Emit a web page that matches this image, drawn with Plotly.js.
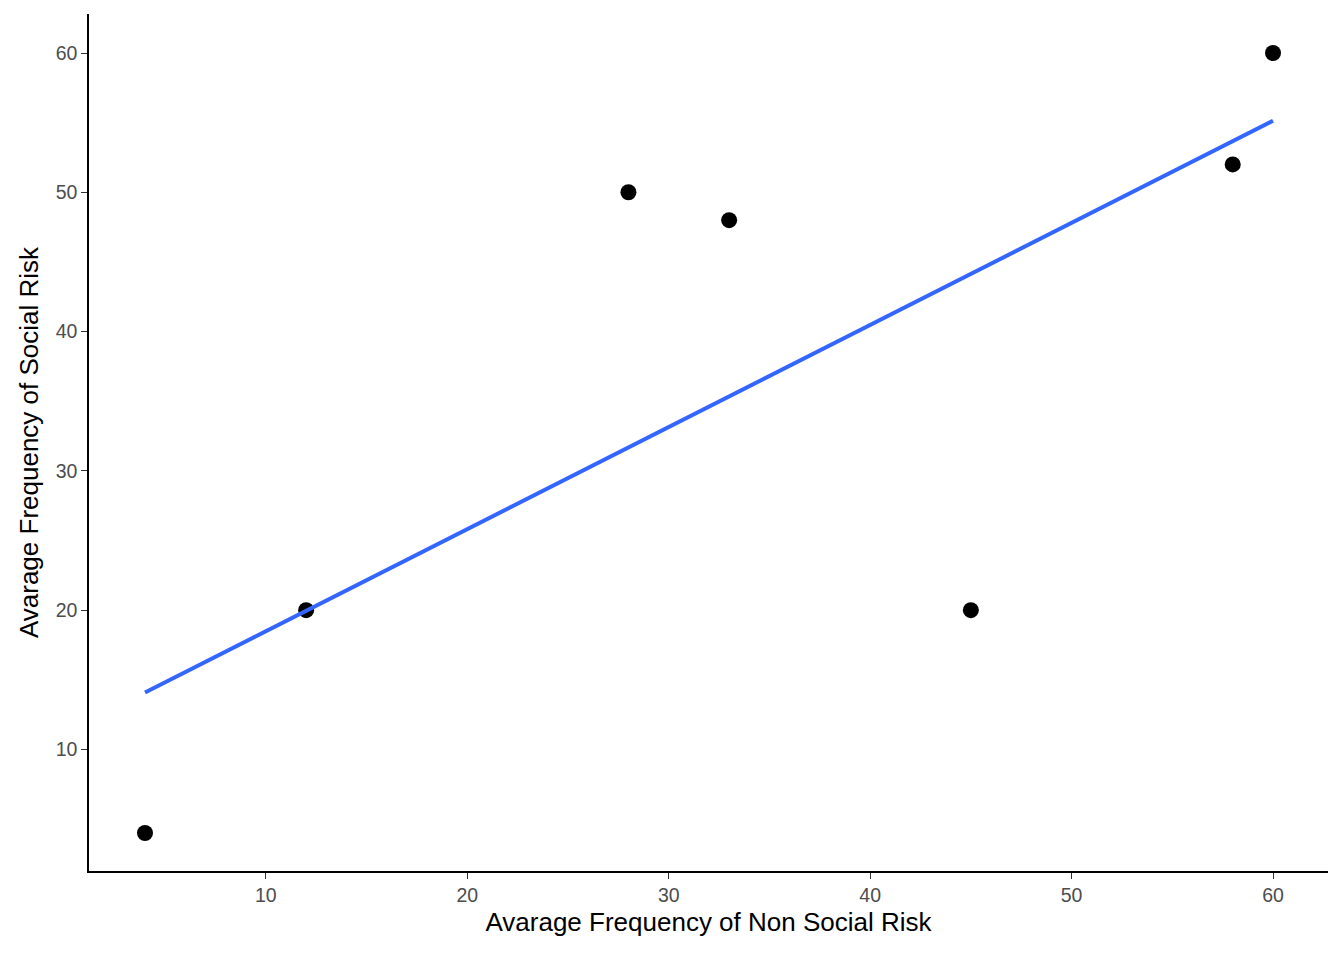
<!DOCTYPE html>
<html>
<head>
<meta charset="utf-8">
<script src="https://cdn.plot.ly/plotly-3.0.1.min.js"></script>
<style>body{margin:0;background:#fff}#chart{width:1344px;height:960px}</style>
</head>
<body>
<div id="chart"></div>
<script>
let nonSocial = [4, 12, 28, 33, 45, 58, 60];
let social = [4, 20, 50, 48, 20, 52, 60];

// least squares fit, like geom_smooth(method = "lm", se = FALSE)
let n = nonSocial.length;
let mx = nonSocial.reduce((a, b) => a + b, 0) / n;
let my = social.reduce((a, b) => a + b, 0) / n;
let sxy = 0, sxx = 0;
for (let i = 0; i < n; i++) {
    sxy += (nonSocial[i] - mx) * (social[i] - my);
    sxx += (nonSocial[i] - mx) ** 2;
}
let slope = sxy / sxx;
let xmin = Math.min(...nonSocial), xmax = Math.max(...nonSocial);
let fitX = [xmin, xmax];
let fitY = fitX.map(x => my + slope * (x - mx));

let data = [
    { x: nonSocial, y: social, type: "scatter", mode: "markers",
      marker: { color: "#000", size: 16 }, hoverinfo: "x+y" },
    { x: fitX, y: fitY, type: "scatter", mode: "lines",
      line: { color: "#3366FF", width: 4 } }
];

let axisStyle = {
    showgrid: false, zeroline: false, showline: true, linecolor: "#000", linewidth: 1.5,
    ticks: "outside", ticklen: 6, tickcolor: "#333",
    tickfont: { family: "Arial, Liberation Sans", size: 19.5, color: "#4d4d4d" }
};

let layout = {
    width: 1344, height: 960,
    margin: { l: 89, r: 16, t: 14, b: 89 },
    showlegend: false,
    plot_bgcolor: "#fff", paper_bgcolor: "#fff",
    xaxis: Object.assign({}, axisStyle, {
        range: [1.22, 62.73], tickvals: [10, 20, 30, 40, 50, 60],
        title: { text: "Avarage Frequency of Non Social Risk", standoff: 8,
                 font: { family: "Arial, Liberation Sans", size: 26, color: "#000" } }
    }),
    yaxis: Object.assign({}, axisStyle, {
        range: [1.27, 62.8], tickvals: [10, 20, 30, 40, 50, 60],
        title: { text: "Avarage Frequency of Social Risk", standoff: 10,
                 font: { family: "Arial, Liberation Sans", size: 26, color: "#000" } }
    })
};

Plotly.newPlot("chart", data, layout, { displayModeBar: false });
</script>
</body>
</html>
